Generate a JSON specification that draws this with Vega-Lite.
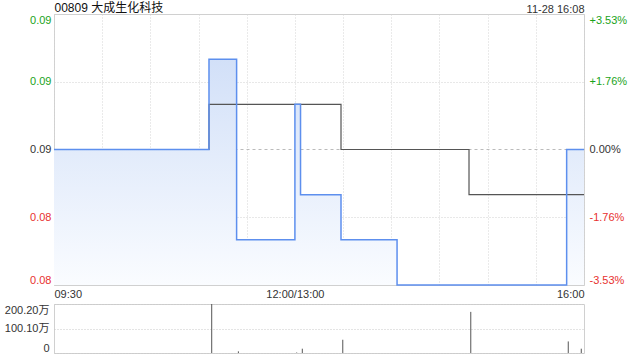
{
  "$schema": "https://vega.github.io/schema/vega-lite/v6.json",
  "padding": {"left": 3, "top": 0, "right": 5, "bottom": 0},
  "config": {
    "font": "Liberation Sans, Noto Sans CJK SC",
    "view": {"stroke": "#d0d0d0"},
    "axis": {"labelFont": "Liberation Sans, Noto Sans CJK SC", "labelFontSize": 11, "labelColor": "#333", "ticks": false, "domain": false, "title": null, "labelOverlap": false}
  },
  "datasets": {
    "price": [
      {"t": 0, "p": 0.085},
      {"t": 96.5, "p": 0.087},
      {"t": 113.7, "p": 0.083},
      {"t": 150, "p": 0.086},
      {"t": 153.5, "p": 0.084},
      {"t": 178.7, "p": 0.083},
      {"t": 213.6, "p": 0.082},
      {"t": 319.2, "p": 0.085},
      {"t": 330, "p": 0.085}
    ],
    "avg": [
      {"t": 0, "a": 0.085},
      {"t": 96.5, "a": 0.086},
      {"t": 178.7, "a": 0.085},
      {"t": 258.4, "a": 0.084},
      {"t": 330, "a": 0.084}
    ],
    "vol": [
      {"t": 98.2, "v": 2002000},
      {"t": 114.8, "v": 68000},
      {"t": 151.1, "v": 20000},
      {"t": 154.6, "v": 176000},
      {"t": 179.8, "v": 541000},
      {"t": 259.5, "v": 1680000},
      {"t": 320.2, "v": 473000},
      {"t": 328.3, "v": 176000}
    ]
  },
  "spacing": 3,
  "vconcat": [
    {
      "width": 530,
      "height": 271,
      "layer": [
        {
          "data": {"name": "price"},
          "mark": {"type": "area", "interpolate": "step-after", "color": {"x1": 0, "y1": 0, "x2": 0, "y2": 1, "gradient": "linear", "stops": [{"offset": 0, "color": "#d2e0f8"}, {"offset": 1, "color": "#fafcff"}]}},
          "encoding": {
            "x": {"field": "t", "type": "quantitative", "scale": {"domain": [0, 330], "nice": false, "zero": false},
              "axis": {"values": [0, 30, 60, 90, 120, 150, 180, 210, 240, 270, 300, 330], "labelExpr": "datum.value == 0 ? '09:30' : datum.value == 150 ? '12:00/13:00' : datum.value == 330 ? '16:00' : ''", "labelFlush": true, "labelPadding": 3, "grid": true, "gridDash": [1, 2], "gridColor": "#d4d4d4", "orient": "bottom"}},
            "y": {"field": "p", "type": "quantitative", "scale": {"domain": [0.082, 0.088], "nice": false, "zero": false},
              "axis": {"values": [0.082, 0.0835, 0.085, 0.0865, 0.088], "format": ".2f", "labelPadding": 3, "labelFlush": true, "orient": "left", "grid": true,
                "gridDash": {"condition": {"test": "abs(datum.value - 0.085) < 0.0001", "value": [3, 3]}, "value": [1, 2]},
                "gridColor": {"condition": {"test": "abs(datum.value - 0.085) < 0.0001", "value": "#bbbbbb"}, "value": "#d0d0d0"},
                "labelColor": {"condition": [{"test": "datum.value > 0.0851", "value": "#1aa31a"}, {"test": "datum.value < 0.0849", "value": "#e8312f"}], "value": "#333333"}}},
            "y2": {"datum": 0.082}
          }
        },
        {
          "data": {"name": "avg"},
          "mark": {"type": "line", "interpolate": "step-after", "color": "#555555", "strokeWidth": 1.2},
          "encoding": {
            "x": {"field": "t", "type": "quantitative", "scale": {"domain": [0, 330], "nice": false, "zero": false},
              "axis": {"orient": "top", "values": [0, 330], "labelExpr": "datum.value == 0 ? '00809 大成生化科技' : '11-28 16:08'", "labelFlush": true, "labelPadding": 0, "grid": false,
                "labelFontSize": {"condition": {"test": "datum.value == 0", "value": 12}, "value": 11},
                "labelColor": {"condition": {"test": "datum.value == 0", "value": "#111111"}, "value": "#333333"}}},
            "y": {"field": "a", "type": "quantitative", "scale": {"domain": [0.082, 0.088], "nice": false, "zero": false},
              "axis": {"orient": "right", "values": [0.082, 0.0835, 0.085, 0.0865, 0.088], "grid": false, "labelPadding": 5, "labelFlush": true,
                "labelExpr": "(datum.value > 0.0851 ? '+' : datum.value < 0.0849 ? '-' : '') + format(abs((datum.value - 0.085) / 0.085 * 100), '.2f') + '%'",
                "labelColor": {"condition": [{"test": "datum.value > 0.0851", "value": "#1aa31a"}, {"test": "datum.value < 0.0849", "value": "#e8312f"}], "value": "#333333"}}}
          }
        },
        {
          "data": {"name": "price"},
          "mark": {"type": "line", "interpolate": "step-after", "color": "#5d8fee", "strokeWidth": 1.5},
          "encoding": {
            "x": {"field": "t", "type": "quantitative", "scale": {"domain": [0, 330], "nice": false, "zero": false}, "axis": null},
            "y": {"field": "p", "type": "quantitative", "scale": {"domain": [0.082, 0.088], "nice": false, "zero": false}, "axis": null}
          }
        }
      ],
      "resolve": {"scale": {"x": "independent", "y": "independent"}}
    },
    {
      "width": 530,
      "height": 49,
      "data": {"name": "vol"},
      "mark": {"type": "rule", "color": "#555555", "strokeWidth": 1},
      "encoding": {
        "x": {"field": "t", "type": "quantitative", "scale": {"domain": [0, 330], "nice": false, "zero": false}, "axis": null},
        "y": {"field": "v", "type": "quantitative", "scale": {"domain": [0, 2002000], "nice": false},
          "axis": {"values": [0, 1001000, 2002000], "labelExpr": "datum.value == 0 ? '0' : datum.value == 1001000 ? '100.10万' : '200.20万'", "labelPadding": 5, "labelFlush": true, "grid": true, "gridDash": [1, 2], "gridColor": "#c8c8c8"}},
        "y2": {"datum": 0}
      }
    }
  ]
}
